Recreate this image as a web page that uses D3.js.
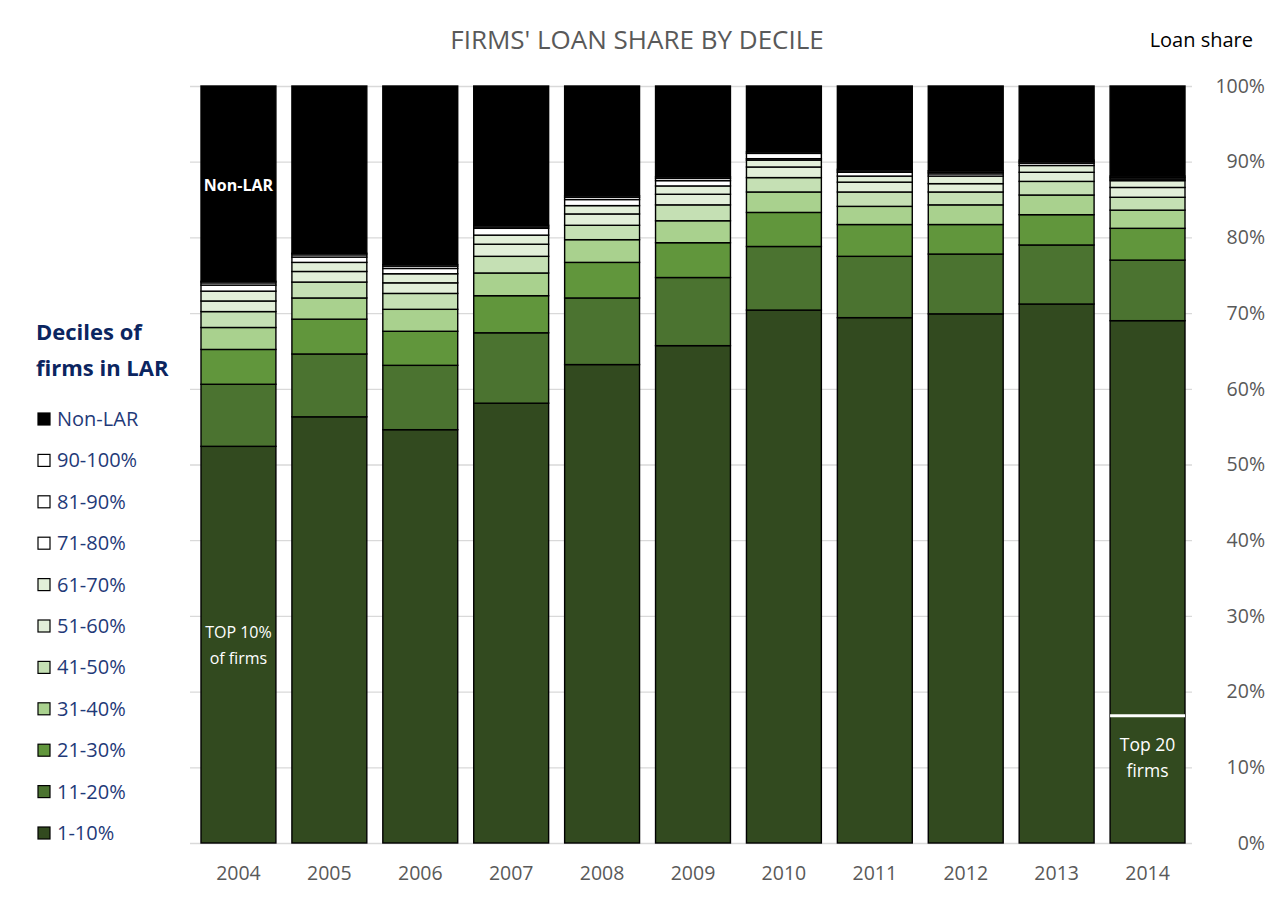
<!DOCTYPE html>
<html>
<head>
<meta charset="utf-8">
<script src="https://cdn.jsdelivr.net/npm/d3@7"></script>
<style>
  body { margin: 0; background: #fff; }
  text { font-family: "Open Sans", "Noto Sans", sans-serif; }
</style>
</head>
<body>
<div id="chart"></div>
<script>
const years = ['2004', '2005', '2006', '2007', '2008', '2009', '2010', '2011', '2012', '2013', '2014']

// share of loans (%) held by each decile of firms, bottom to top
const d1_10   = [52.4, 56.3, 54.6, 58.1, 63.2, 65.7, 70.4, 69.4, 69.9, 71.2, 69.0]
const d11_20  = [8.2, 8.3, 8.5, 9.3, 8.8, 9.0, 8.4, 8.1, 7.9, 7.8, 8.0]
const d21_30  = [4.6, 4.6, 4.5, 4.9, 4.7, 4.6, 4.5, 4.2, 3.9, 4.0, 4.2]
const d31_40  = [2.9, 2.8, 2.9, 3.0, 3.0, 2.9, 2.7, 2.4, 2.6, 2.6, 2.4]
const d41_50  = [2.1, 2.1, 2.1, 2.2, 1.9, 2.1, 1.9, 1.9, 1.7, 1.8, 1.7]
const d51_60  = [1.4, 1.4, 1.4, 1.6, 1.5, 1.4, 1.4, 1.3, 1.1, 1.2, 1.3]
const d61_70  = [1.3, 1.2, 1.2, 1.2, 1.1, 1.1, 0.9, 0.8, 1.0, 0.9, 0.9]
const d71_80  = [0.8, 0.7, 0.7, 0.9, 0.8, 0.7, 0.2, 0.5, 0.3, 0.3, 0.2]
const d81_90  = [0.3, 0.3, 0.3, 0.2, 0.3, 0.3, 0.7, 0.2, 0.2, 0.2, 0.2]
const d90_100 = [0.2, 0.2, 0.2, 0.2, 0.2, 0.2, 0.2, 0.2, 0.2, 0.2, 0.2]
const nonLAR  = [25.8, 22.1, 23.6, 18.4, 14.5, 12.0, 8.7, 11.0, 11.2, 9.8, 11.9]

const seriesNames = ['1-10%', '11-20%', '21-30%', '31-40%', '41-50%', '51-60%', '61-70%', '71-80%', '81-90%', '90-100%', 'Non-LAR']
const seriesValues = [d1_10, d11_20, d21_30, d31_40, d41_50, d51_60, d61_70, d71_80, d81_90, d90_100, nonLAR]
const seriesColors = ['#324a1f', '#4b7330', '#61963c', '#a9d18e', '#c5e0b4', '#e2efd9', '#e2efd9', '#ffffff', '#ffffff', '#ffffff', '#000000']

const yTicks = [0, 0.1, 0.2, 0.3, 0.4, 0.5, 0.6, 0.7, 0.8, 0.9, 1]
const top20Share = 16.8  // 2014, top 20 firms

const dimensions = {
  width: 1268,
  height: 898,
  left: 193,
  right: 1193,
  top: 86,
  bottom: 843
}

const table = years.map((year, i) => {
  const row = { year }
  seriesNames.forEach((name, s) => { row[name] = seriesValues[s][i] / 100 })
  return row
})

const stacked = d3.stack().keys(seriesNames)(table)

const svg = d3.select('#chart')
  .append('svg')
  .attr('width', dimensions.width)
  .attr('height', dimensions.height)

const xScale = d3.scaleBand()
  .domain(years)
  .range([dimensions.left, dimensions.right])
  .paddingInner(0.176)
  .paddingOuter(0.088)

const yScale = d3.scaleLinear()
  .domain([0, 1])
  .range([dimensions.bottom, dimensions.top])

// gridlines
svg.append('g')
  .selectAll('line')
  .data(yTicks)
  .join('line')
  .attr('x1', dimensions.left - 3)
  .attr('x2', dimensions.right - 1)
  .attr('y1', d => yScale(d) + 0.5)
  .attr('y2', d => yScale(d) + 0.5)
  .attr('stroke', '#d9d9d9')
  .attr('stroke-width', 1.3)

// bars
svg.append('g')
  .selectAll('g')
  .data(stacked)
  .join('g')
  .attr('fill', (d, i) => seriesColors[i])
  .selectAll('rect')
  .data(d => d)
  .join('rect')
  .attr('x', d => xScale(d.data.year))
  .attr('width', xScale.bandwidth())
  .attr('y', d => yScale(d[1]))
  .attr('height', d => yScale(d[0]) - yScale(d[1]))
  .attr('stroke', '#000')
  .attr('stroke-width', 1.4)

// right axis
const yAxis = d3.axisRight(yScale)
  .tickValues(yTicks)
  .tickFormat(d3.format('.0%'))
  .tickSize(0)

const yAxisGroup = svg.append('g')
  .attr('transform', `translate(1265, 0)`)
  .call(yAxis)
yAxisGroup.select('.domain').remove()
yAxisGroup.selectAll('text')
  .attr('x', 0)
  .attr('text-anchor', 'end')
  .attr('fill', '#595959')
  .style('font-size', '19.5px')

// bottom axis labels
const xAxis = d3.axisBottom(xScale).tickSize(0)
const xAxisGroup = svg.append('g')
  .attr('transform', `translate(0, ${dimensions.bottom})`)
  .call(xAxis)
xAxisGroup.select('.domain').remove()
xAxisGroup.selectAll('text')
  .attr('y', 23)
  .attr('fill', '#595959')
  .style('font-size', '19.5px')

// titles
svg.append('text')
  .text("FIRMS' LOAN SHARE BY DECILE")
  .attr('x', 637)
  .attr('y', 49)
  .attr('text-anchor', 'middle')
  .attr('fill', '#595959')
  .style('font-size', '26px')

svg.append('text')
  .text('Loan share')
  .attr('x', 1253)
  .attr('y', 47)
  .attr('text-anchor', 'end')
  .attr('fill', '#000')
  .style('font-size', '20px')

// legend
const legend = svg.append('g')
legend.selectAll('text.title')
  .data(['Deciles of', 'firms in LAR'])
  .join('text')
  .attr('class', 'title')
  .text(d => d)
  .attr('x', 36)
  .attr('y', (d, i) => 340 + i * 36)
  .attr('fill', '#0b2560')
  .style('font-size', '22px')
  .style('font-weight', 'bold')

const legendItems = seriesNames.map((name, i) => ({ name, color: seriesColors[i] })).reverse()

const item = legend.selectAll('g.item')
  .data(legendItems)
  .join('g')
  .attr('class', 'item')
  .attr('transform', (d, i) => `translate(38, ${419 + i * 41.4})`)

item.append('rect')
  .attr('x', 0)
  .attr('y', -6)
  .attr('width', 12)
  .attr('height', 12)
  .attr('fill', d => d.color)
  .attr('stroke', '#000')
  .attr('stroke-width', 1.2)

item.append('text')
  .text(d => d.name)
  .attr('x', 19)
  .attr('y', 7)
  .attr('fill', '#1f3a78')
  .style('font-size', '20px')

// annotations
const firstX = xScale(years[0]) + xScale.bandwidth() / 2
const lastI = years.length - 1
const lastX = xScale(years[lastI]) + xScale.bandwidth() / 2

svg.append('text')
  .text('Non-LAR')
  .attr('x', firstX)
  .attr('y', 191)
  .attr('text-anchor', 'middle')
  .attr('fill', '#fff')
  .style('font-size', '16px')
  .style('font-weight', 'bold')

svg.selectAll('text.top10')
  .data(['TOP 10%', 'of firms'])
  .join('text')
  .attr('class', 'top10')
  .text(d => d)
  .attr('x', firstX)
  .attr('y', (d, i) => 638 + i * 26)
  .attr('text-anchor', 'middle')
  .attr('fill', '#fff')
  .style('font-size', '16px')

svg.append('line')
  .attr('x1', xScale(years[lastI]))
  .attr('x2', xScale(years[lastI]) + xScale.bandwidth())
  .attr('y1', yScale(top20Share / 100))
  .attr('y2', yScale(top20Share / 100))
  .attr('stroke', '#fff')
  .attr('stroke-width', 3)

svg.selectAll('text.top20')
  .data(['Top 20', 'firms'])
  .join('text')
  .attr('class', 'top20')
  .text(d => d)
  .attr('x', lastX)
  .attr('y', (d, i) => 751 + i * 26)
  .attr('text-anchor', 'middle')
  .attr('fill', '#fff')
  .style('font-size', '17.5px')
</script>
</body>
</html>
